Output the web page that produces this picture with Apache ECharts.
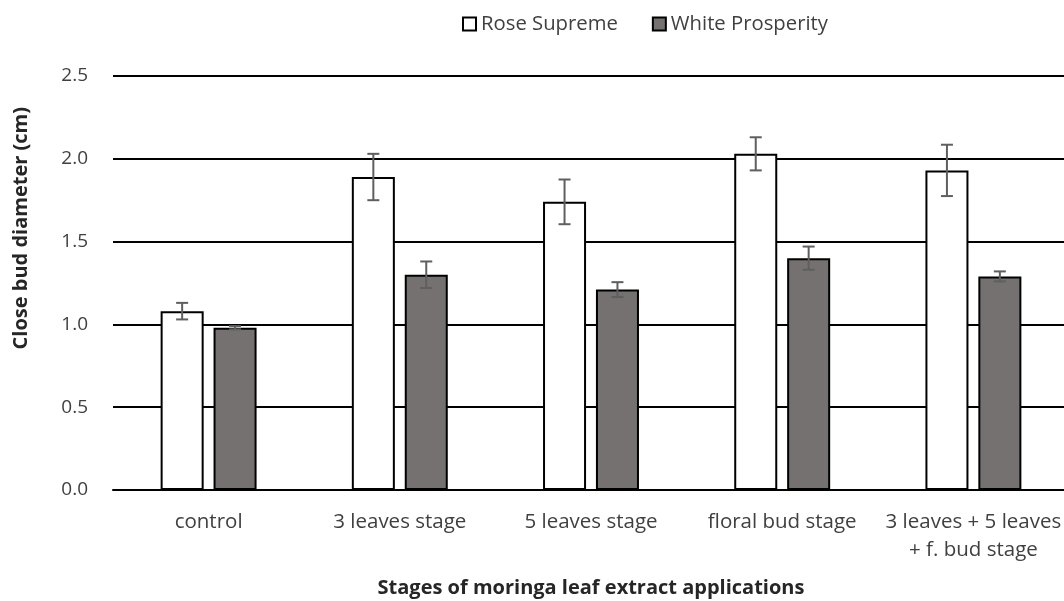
<!DOCTYPE html>
<html>
<head>
<meta charset="utf-8">
<script src="https://cdn.jsdelivr.net/npm/echarts@6/dist/echarts.min.js"></script>
<style>
html,body{margin:0;padding:0;background:#fff;}
#chart{width:1064px;height:601px;}
</style>
</head>
<body>
<div id="chart"></div>
<script>
const categories = ['control', '3 leaves stage', '5 leaves stage', 'floral bud stage', '3 leaves + 5 leaves\n+ f. bud stage'];
const roseSupreme = [1.08, 1.89, 1.74, 2.03, 1.93];
const roseSupremeErr = [0.05, 0.14, 0.135, 0.10, 0.155];
const whiteProsperity = [0.98, 1.30, 1.21, 1.40, 1.29];
const whiteProsperityErr = [0.01, 0.08, 0.045, 0.07, 0.03];
const yTicks = { min: 0, max: 2.5, interval: 0.5 };

const FONT = '"Open Sans", "Noto Sans", sans-serif';
const BAR_W = 0.225;
const GAP = 0.23;

function errSeries(idx, vals, errs) {
  return {
    type: 'custom',
    name: 'err' + idx,
    z: 10,
    silent: true,
    data: vals.map((v, i) => [i, v - errs[i], v + errs[i]]),
    encode: { x: 0, y: [1, 2] },
    renderItem: function (params, api) {
      const x = api.value(0);
      const lo = api.coord([x, api.value(1)]);
      const hi = api.coord([x, api.value(2)]);
      const band = api.size([1, 0])[0];
      const bw = band * BAR_W;
      const off = (idx === 0 ? -1 : 1) * (bw + bw * GAP) / 2;
      const cx = lo[0] + off;
      const hw = 6;
      const st = { stroke: '#5f5f5f', lineWidth: 2 };
      return {
        type: 'group',
        children: [
          { type: 'line', shape: { x1: cx, y1: lo[1], x2: cx, y2: hi[1] }, style: st },
          { type: 'line', shape: { x1: cx - hw, y1: lo[1], x2: cx + hw, y2: lo[1] }, style: st },
          { type: 'line', shape: { x1: cx - hw, y1: hi[1], x2: cx + hw, y2: hi[1] }, style: st }
        ]
      };
    }
  };
}

const chart = echarts.init(document.getElementById('chart'), null, { renderer: 'canvas' });
chart.setOption({
  animation: false,
  textStyle: { fontFamily: FONT },
  legend: {
    data: ['Rose Supreme', 'White Prosperity'],
    left: 457,
    top: 9,
    icon: 'rect',
    itemWidth: 13,
    itemHeight: 13,
    itemGap: 34,
    textStyle: { fontSize: 20.3, color: '#404040', fontFamily: FONT }
  },
  grid: { left: 113, top: 76, width: 956, height: 414, containLabel: false, outerBoundsMode: 'none' },
  xAxis: {
    type: 'category',
    data: categories,
    name: 'Stages of moringa leaf extract applications',
    nameLocation: 'middle',
    nameGap: 88,
    nameTextStyle: { fontSize: 20, fontWeight: 'bold', color: '#262626', fontFamily: FONT },
    axisLine: { lineStyle: { color: '#000', width: 2 } },
    axisTick: { show: false },
    axisLabel: { fontSize: 20.5, color: '#404040', margin: 18, lineHeight: 28, interval: 0, fontFamily: FONT }
  },
  yAxis: {
    type: 'value',
    min: yTicks.min,
    max: yTicks.max,
    interval: yTicks.interval,
    axisLine: { show: false },
    axisTick: { show: false },
    axisLabel: { fontSize: 19, color: '#404040', margin: 25, formatter: v => v.toFixed(1), fontFamily: FONT },
    splitLine: { lineStyle: { color: '#000', width: 2 } }
  },
  graphic: [{
    type: 'text',
    left: 11,
    top: 107,
    rotation: Math.PI / 2,
    style: {
      text: 'Close bud diameter (cm)',
      font: 'bold 20px ' + FONT,
      fill: '#262626'
    }
  }],
  series: [
    {
      name: 'Rose Supreme',
      type: 'bar',
      data: roseSupreme,
      barWidth: (BAR_W * 100) + '%',
      barGap: (GAP * 100) + '%',
      itemStyle: { color: '#ffffff', borderColor: '#000', borderWidth: 2 }
    },
    {
      name: 'White Prosperity',
      type: 'bar',
      data: whiteProsperity,
      barWidth: (BAR_W * 100) + '%',
      barGap: (GAP * 100) + '%',
      itemStyle: { color: '#767171', borderColor: '#000', borderWidth: 2 }
    },
    errSeries(0, roseSupreme, roseSupremeErr),
    errSeries(1, whiteProsperity, whiteProsperityErr)
  ]
});
</script>
</body>
</html>
